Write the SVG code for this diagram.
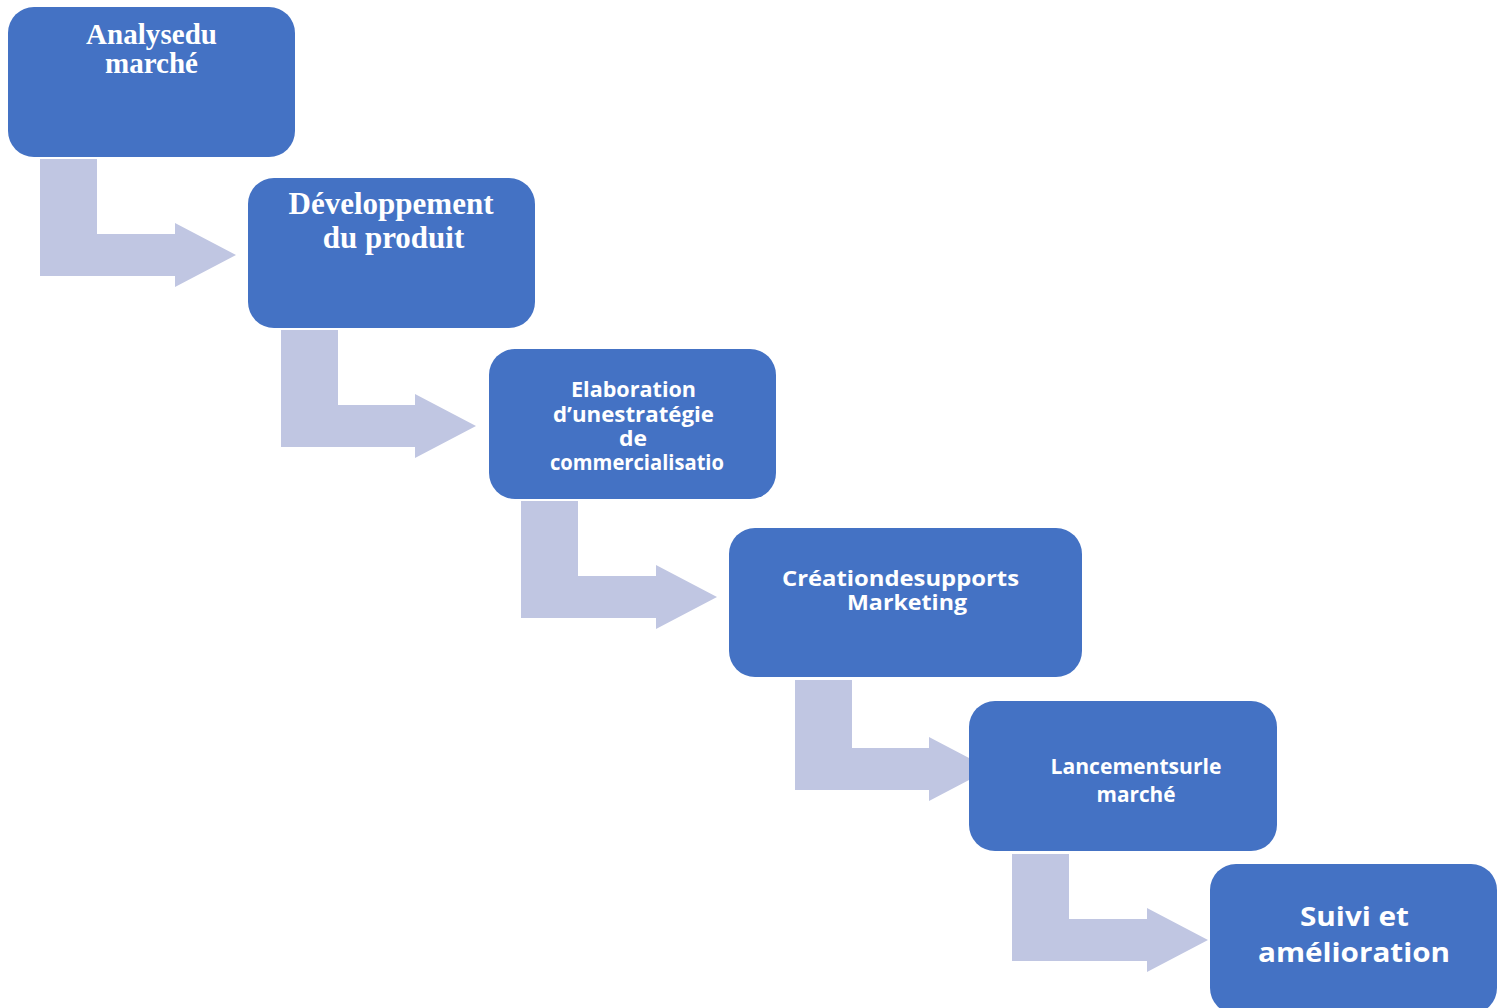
<svg xmlns="http://www.w3.org/2000/svg" width="1504" height="1008" viewBox="0 0 1504 1008">
<style>
.box{fill:#4472C4}
.arr{fill:#C0C6E2}
.serif{font-family:"Liberation Serif","Times New Roman",serif;font-weight:700;fill:#FFFFFF;text-anchor:middle}
.sans{font-family:"Open Sans","Noto Sans","Liberation Sans",sans-serif;font-weight:700;fill:#FFFFFF;text-anchor:middle;font-variant-ligatures:none}
</style>
<rect width="1504" height="1008" fill="#FFFFFF"/>
<g id="connectors">
<path class="arr" d="M40 159 H97 V234 H175 V223 L236 255 L175 287 V276 H40 Z"/>
<path class="arr" d="M281 330 H338 V405 H415 V394 L476 426 L415 458 V447 H281 Z"/>
<path class="arr" d="M521 501 H578 V576 H656 V565 L717 597 L656 629 V618 H521 Z"/>
<path class="arr" d="M795 680 H852 V748 H929 V737 L990 769 L929 801 V790 H795 Z"/>
<path class="arr" d="M1012 854 H1069 V919 H1147 V908 L1208 940 L1147 972 V961 H1012 Z"/>
</g>
<g id="node1">
<rect class="box" x="8" y="7" width="287" height="150" rx="26"/>
<text class="serif" font-size="29" x="151.5" y="43.5" textLength="131">Analysedu</text>
<text class="serif" font-size="29" x="151.5" y="72.5">marché</text>
</g>
<g id="node2">
<rect class="box" x="248" y="178" width="287" height="150" rx="26"/>
<text class="serif" font-size="31" x="391" y="214">Développement</text>
<text class="serif" font-size="31" x="393.5" y="248">du produit</text>
</g>
<g id="node3">
<rect class="box" x="489" y="349" width="287" height="150" rx="26"/>
<text class="sans" font-size="21" x="633.5" y="397" textLength="125" lengthAdjust="spacingAndGlyphs">Elaboration</text>
<text class="sans" font-size="21" x="633.5" y="422" textLength="161" lengthAdjust="spacingAndGlyphs">d’unestratégie</text>
<text class="sans" font-size="21" x="633" y="446" textLength="28" lengthAdjust="spacingAndGlyphs">de</text>
<text class="sans" font-size="21" x="637" y="470" textLength="174" lengthAdjust="spacingAndGlyphs">commercialisatio</text>
</g>
<g id="node4">
<rect class="box" x="729" y="528" width="353" height="149" rx="26"/>
<text class="sans" font-size="22" x="900.5" y="586" textLength="237" lengthAdjust="spacingAndGlyphs">Créationdesupports</text>
<text class="sans" font-size="22" x="907" y="610" textLength="120" lengthAdjust="spacingAndGlyphs">Marketing</text>
</g>
<g id="node5">
<rect class="box" x="969" y="701" width="308" height="150" rx="26"/>
<text class="sans" font-size="22" x="1136" y="774" textLength="171" lengthAdjust="spacingAndGlyphs">Lancementsurle</text>
<text class="sans" font-size="22" x="1136" y="802" textLength="79" lengthAdjust="spacingAndGlyphs">marché</text>
</g>
<g id="node6">
<rect class="box" x="1210" y="864" width="287" height="150" rx="26"/>
<text class="sans" font-size="27" x="1354.5" y="926" textLength="109" lengthAdjust="spacingAndGlyphs">Suivi et</text>
<text class="sans" font-size="27" x="1354" y="962" textLength="192" lengthAdjust="spacingAndGlyphs">amélioration</text>
</g>
</svg>
